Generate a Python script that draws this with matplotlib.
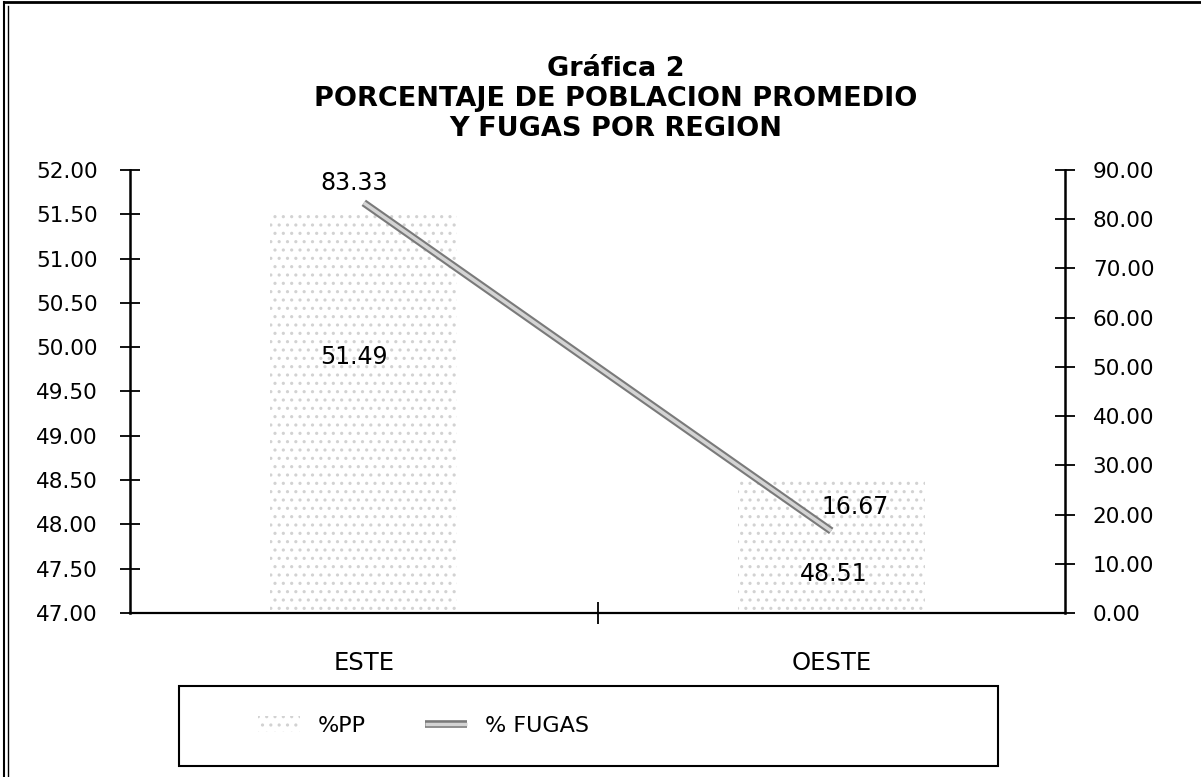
import matplotlib
matplotlib.use("Agg")
import matplotlib.pyplot as plt
import matplotlib.patheffects as pe
from matplotlib.patches import Rectangle
from matplotlib.lines import Line2D
import numpy as np

# ---- data ----
categories = ["ESTE", "OESTE"]
pct_pp = [51.49, 48.51]
pct_fugas = [83.33, 16.67]
left_ticks = [47.00, 47.50, 48.00, 48.50, 49.00, 49.50, 50.00, 50.50, 51.00, 51.50, 52.00]
right_ticks = [0, 10, 20, 30, 40, 50, 60, 70, 80, 90]
title_text = "Gráfica 2\nPORCENTAJE DE POBLACION PROMEDIO\nY FUGAS POR REGION"

plt.rcParams['font.family'] = ['DejaVu Sans']
plt.rcParams['hatch.linewidth'] = 1.1

W, H = 1201, 777
fig = plt.figure(figsize=(W / 100, H / 100), dpi=100)

def fx(px):
    return px / W

def fy(py):
    return 1 - py / H

ax = fig.add_axes([fx(130), fy(613), fx(1065) - fx(130), fy(170) - fy(613)])
ax2 = ax.twinx()

x = np.arange(len(categories))
bars = ax.bar(x, pct_pp, width=0.4, bottom=0, color="white",
              edgecolor="#d2d2d2", linewidth=0, hatch="..", zorder=2,
              label="%PP")
ax.set_xlim(-0.5, 1.5)
ax.set_ylim(47, 52)
ax.set_yticks(left_ticks)
ax.set_yticklabels([f"{v:.2f}" for v in left_ticks])
ax.set_xticks(x)
ax.set_xticklabels(categories)
ax.set_xticks([0.5], minor=True)
ax.tick_params(axis="x", which="major", length=0, pad=27, labelsize=17.5)
ax.tick_params(axis="x", which="minor", direction="inout", length=16, width=1.3)
ax.tick_params(axis="y", direction="inout", length=14, width=1.3, pad=16, labelsize=15.5)
for s in ["top", "right"]:
    ax.spines[s].set_visible(False)
ax.spines["left"].set_linewidth(1.8)
ax.spines["bottom"].set_linewidth(1.6)

line, = ax2.plot(x, pct_fugas, color="#d4d4d4", lw=2.5, zorder=3,
                 solid_capstyle="butt", label="% FUGAS",
                 path_effects=[pe.Stroke(linewidth=5.5, foreground="#7a7a7a"), pe.Normal()])
ax2.set_ylim(0, 90)
ax2.set_yticks(right_ticks)
ax2.set_yticklabels([f"{v:.2f}" for v in right_ticks])
ax2.tick_params(axis="y", direction="inout", length=14, width=1.3, pad=13, labelsize=15.5)
for s in ["top", "left", "bottom"]:
    ax2.spines[s].set_visible(False)
ax2.spines["right"].set_linewidth(1.8)

# data labels
for xi, v, off in zip(x, pct_pp, [(-10, -142), (2, -95)]):
    ax.annotate(f"{v:.2f}", xy=(xi, v), xytext=off, textcoords="offset pixels",
                ha="center", va="center", fontsize=17, zorder=5)
for xi, v, off in zip(x, pct_fugas, [(-10, 20), (24, 24)]):
    ax2.annotate(f"{v:.2f}", xy=(xi, v), xytext=off, textcoords="offset pixels",
                 ha="center", va="center", fontsize=17, zorder=5)

# title
fig.text(fx(616), fy(99), title_text, ha="center", va="center",
         fontsize=19.5, fontweight="bold", linespacing=1.2)

# legend box
fig.patches.append(Rectangle((fx(179), fy(766)), fx(998) - fx(179), fy(686) - fy(766),
                             transform=fig.transFigure, fill=False,
                             edgecolor="black", linewidth=1.5))
fig.legend(handles=[bars, line], labels=["%PP", "% FUGAS"], ncol=2,
           loc="center left", bbox_to_anchor=(fx(258), fy(726)),
           frameon=False, fontsize=16, handlelength=1.9, handletextpad=0.8,
           columnspacing=2.65, borderpad=0, borderaxespad=0)

# outer border
fig.add_artist(Line2D([fx(4), fx(4)], [0, fy(2)], transform=fig.transFigure, color="black", lw=1.5))
fig.add_artist(Line2D([fx(8), fx(8)], [0, fy(6)], transform=fig.transFigure, color="black", lw=1.0))
fig.add_artist(Line2D([fx(4), 1], [fy(2), fy(2)], transform=fig.transFigure, color="black", lw=2))

fig.savefig("out.png", dpi=100)
